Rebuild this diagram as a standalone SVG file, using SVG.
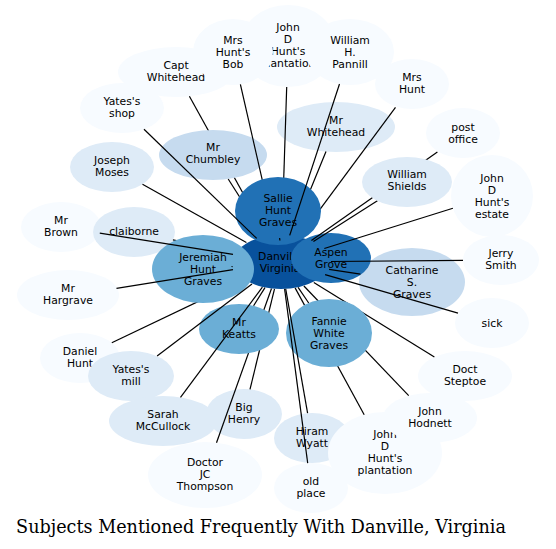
<svg xmlns="http://www.w3.org/2000/svg" width="556" height="549" viewBox="0 0 556 549">
<style>
.c1{fill:#f7fbff}.c2{fill:#deebf7}.c3{fill:#c6dbef}.c4{fill:#6baed6}.c5{fill:#2171b5}.c6{fill:#08519c}
text{font-family:"DejaVu Sans","Liberation Sans",sans-serif;font-size:10.8px;fill:#000;text-anchor:middle}
line{stroke:#000;stroke-width:1.2;fill:none}
.title{font-family:"DejaVu Serif","Liberation Serif",serif;font-size:17.6px;text-anchor:middle}
</style>
<rect width="556" height="549" fill="#fff"/>
<g id="nodes-light">
<g id="n-yatesshop"><ellipse class="c1" cx="122" cy="108" rx="42" ry="25"/><text><tspan x="122" y="105">Yates's</tspan><tspan x="122" y="117">shop</tspan></text></g>
<g id="n-captwhitehead"><ellipse class="c1" cx="176" cy="72" rx="58" ry="25"/><text><tspan x="176" y="69">Capt</tspan><tspan x="176" y="81">Whitehead</tspan></text></g>
<g id="n-jdhp1"><ellipse class="c1" cx="288" cy="46" rx="48" ry="41"/><text><tspan x="288" y="31">John</tspan><tspan x="288" y="43">D</tspan><tspan x="288" y="55">Hunt's</tspan><tspan x="288" y="67">plantation</tspan></text></g>
<g id="n-bob"><ellipse class="c1" cx="233" cy="52" rx="40" ry="33"/><text><tspan x="233" y="44">Mrs</tspan><tspan x="233" y="56">Hunt's</tspan><tspan x="233" y="68">Bob</tspan></text></g>
<g id="n-pannill"><ellipse class="c1" cx="350" cy="52" rx="44" ry="33"/><text><tspan x="350" y="44">William</tspan><tspan x="350" y="56">H.</tspan><tspan x="350" y="68">Pannill</tspan></text></g>
<g id="n-mrshunt"><ellipse class="c1" cx="412" cy="84" rx="37" ry="25"/><text><tspan x="412" y="81">Mrs</tspan><tspan x="412" y="93">Hunt</tspan></text></g>
<g id="n-postoffice"><ellipse class="c1" cx="463" cy="133" rx="37" ry="25"/><text><tspan x="463" y="131">post</tspan><tspan x="463" y="143">office</tspan></text></g>
<g id="n-mrwhitehead"><ellipse class="c2" cx="336" cy="127" rx="59" ry="25"/><text><tspan x="336" y="124">Mr</tspan><tspan x="336" y="136">Whitehead</tspan></text></g>
<g id="n-estate"><ellipse class="c1" cx="492" cy="196" rx="41" ry="41"/><text><tspan x="492" y="182">John</tspan><tspan x="492" y="194">D</tspan><tspan x="492" y="206">Hunt's</tspan><tspan x="492" y="218">estate</tspan></text></g>
<g id="n-jerry"><ellipse class="c1" cx="501" cy="260" rx="38" ry="25"/><text><tspan x="501" y="257">Jerry</tspan><tspan x="501" y="269">Smith</tspan></text></g>
<g id="n-sick"><ellipse class="c1" cx="492" cy="323" rx="37" ry="25"/><text><tspan x="492" y="327">sick</tspan></text></g>
<g id="n-steptoe"><ellipse class="c1" cx="465" cy="376" rx="47" ry="25"/><text><tspan x="465" y="373">Doct</tspan><tspan x="465" y="385">Steptoe</tspan></text></g>
<g id="n-hiram"><ellipse class="c2" cx="312" cy="438" rx="38" ry="25"/><text><tspan x="312" y="435">Hiram</tspan><tspan x="312" y="447">Wyatt</tspan></text></g>
<g id="n-jdhp2"><ellipse class="c1" cx="385" cy="453" rx="57" ry="41"/><text><tspan x="385" y="438">John</tspan><tspan x="385" y="450">D</tspan><tspan x="385" y="462">Hunt's</tspan><tspan x="385" y="474">plantation</tspan></text></g>
<g id="n-hodnett"><ellipse class="c1" cx="430" cy="418" rx="47" ry="25"/><text><tspan x="430" y="415">John</tspan><tspan x="430" y="427">Hodnett</tspan></text></g>
<g id="n-oldplace"><ellipse class="c1" cx="311" cy="488" rx="37" ry="25"/><text><tspan x="311" y="485">old</tspan><tspan x="311" y="497">place</tspan></text></g>
<g id="n-thompson"><ellipse class="c1" cx="205" cy="475" rx="57" ry="33"/><text><tspan x="205" y="466">Doctor</tspan><tspan x="205" y="478">JC</tspan><tspan x="205" y="490">Thompson</tspan></text></g>
<g id="n-danielhunt"><ellipse class="c1" cx="80" cy="358" rx="40" ry="25"/><text><tspan x="80" y="355">Daniel</tspan><tspan x="80" y="367">Hunt</tspan></text></g>
<g id="n-yatesmill"><ellipse class="c2" cx="131" cy="376" rx="43" ry="25"/><text><tspan x="131" y="373">Yates's</tspan><tspan x="131" y="385">mill</tspan></text></g>
<g id="n-sarah"><ellipse class="c2" cx="163" cy="421" rx="54" ry="25"/><text><tspan x="163" y="418">Sarah</tspan><tspan x="163" y="430">McCullock</tspan></text></g>
<g id="n-bighenry"><ellipse class="c2" cx="244" cy="414" rx="38" ry="25"/><text><tspan x="244" y="411">Big</tspan><tspan x="244" y="423">Henry</tspan></text></g>
<g id="n-hargrave"><ellipse class="c1" cx="68" cy="295" rx="51" ry="25"/><text><tspan x="68" y="292">Mr</tspan><tspan x="68" y="304">Hargrave</tspan></text></g>
<g id="n-brown"><ellipse class="c1" cx="61" cy="227" rx="40" ry="25"/><text><tspan x="61" y="224">Mr</tspan><tspan x="61" y="236">Brown</tspan></text></g>
<g id="n-claiborne"><ellipse class="c2" cx="134" cy="232" rx="41" ry="25"/><text><tspan x="134" y="235">claiborne</tspan></text></g>
<g id="n-joseph"><ellipse class="c2" cx="112" cy="167" rx="42" ry="25"/><text><tspan x="112" y="164">Joseph</tspan><tspan x="112" y="176">Moses</tspan></text></g>
</g>
<g id="connectors-under">
<line x1="189.4" y1="96.3" x2="266.7" y2="236.1"/>
<line x1="172.9" y1="239.9" x2="234.2" y2="252.5"/>
<line x1="111.8" y1="342.8" x2="243.6" y2="279.9"/>
<line x1="250" y1="389.3" x2="274.5" y2="288.8"/>
<line x1="216.5" y1="442.7" x2="271.5" y2="288.5"/>
<line x1="434.4" y1="357" x2="313.8" y2="282.4"/>
<line x1="364.2" y1="414.8" x2="295.1" y2="287.9"/>
<line x1="408.7" y1="395.7" x2="303.9" y2="286"/>
</g>
<g id="nodes-mid">
<g id="n-danville"><ellipse class="c6" cx="281" cy="262" rx="48" ry="27"/><text><tspan x="280" y="260">Danville</tspan><tspan x="280" y="272">Virginia</tspan></text></g>
<g id="n-chumbley"><ellipse class="c3" cx="213" cy="155" rx="54" ry="25"/><text><tspan x="213" y="151">Mr</tspan><tspan x="213" y="163">Chumbley</tspan></text></g>
<g id="n-catharine"><ellipse class="c3" cx="412" cy="282" rx="53" ry="34"/><text><tspan x="412" y="274">Catharine</tspan><tspan x="412" y="286">S.</tspan><tspan x="412" y="298">Graves</tspan></text></g>
<g id="n-jeremiah"><ellipse class="c4" cx="203" cy="269" rx="51" ry="34"/><text><tspan x="203" y="261">Jeremiah</tspan><tspan x="203" y="273">Hunt</tspan><tspan x="203" y="285">Graves</tspan></text></g>
<g id="n-keatts"><ellipse class="c4" cx="239" cy="329" rx="40" ry="25"/><text><tspan x="239" y="326">Mr</tspan><tspan x="239" y="338">Keatts</tspan></text></g>
<g id="n-fannie"><ellipse class="c4" cx="329" cy="333" rx="43" ry="34"/><text><tspan x="329" y="325">Fannie</tspan><tspan x="329" y="337">White</tspan><tspan x="329" y="349">Graves</tspan></text></g>
</g>
<g id="connectors-mid">
<line x1="240.4" y1="84.4" x2="274.9" y2="235.2"/>
<line x1="286.7" y1="87" x2="281.9" y2="235"/>
<line x1="395.5" y1="107.4" x2="299.6" y2="236.9"/>
<line x1="326" y1="151.6" x2="291.7" y2="235.6"/>
<line x1="228.2" y1="179" x2="264.8" y2="236.5"/>
</g>
<g id="nodes-dark">
<g id="n-sallie"><ellipse class="c5" cx="278" cy="211" rx="43" ry="34"/><text><tspan x="278" y="202">Sallie</tspan><tspan x="278" y="214">Hunt</tspan><tspan x="278" y="226">Graves</tspan></text></g>
<g id="n-aspen"><ellipse class="c5" cx="331" cy="258" rx="40" ry="25"/><text><tspan x="331" y="256">Aspen</tspan><tspan x="331" y="268">Grove</tspan></text></g>
</g>
<g id="connectors-over">
<line x1="339.5" y1="84" x2="289.7" y2="235.4"/>
<line x1="144" y1="129.3" x2="256.7" y2="238.4"/>
<line x1="142.5" y1="184.2" x2="246.4" y2="242.5"/>
<line x1="99.8" y1="233.2" x2="233" y2="254.4"/>
<line x1="116.5" y1="288.3" x2="233" y2="269.7"/>
<line x1="157.1" y1="356.1" x2="252" y2="284"/>
<line x1="180.5" y1="397.4" x2="262.4" y2="287.1"/>
<line x1="307.6" y1="413.2" x2="285.7" y2="288.9"/>
<line x1="307.7" y1="463.1" x2="284.6" y2="288.9"/>
<line x1="253.6" y1="305.7" x2="265" y2="287.6"/>
<line x1="308.7" y1="303" x2="298.1" y2="287.4"/>
<line x1="360.4" y1="274.1" x2="329.1" y2="269.3"/>
<line x1="458" y1="313.2" x2="325.1" y2="274.7"/>
<line x1="463" y1="260.3" x2="331" y2="261.5"/>
<line x1="452.9" y1="208.2" x2="324.3" y2="248.5"/>
<line x1="377.4" y1="200.8" x2="313.4" y2="241.4"/>
<line x1="437.4" y1="152" x2="311.4" y2="240.6"/>
<line x1="279.6" y1="238" x2="279.9" y2="240.5"/>
<line x1="231.5" y1="266.5" x2="232.6" y2="266.6"/>
</g>
<g id="n-shields"><ellipse class="c2" cx="407" cy="182" rx="45" ry="25"/><text><tspan x="407" y="178">William</tspan><tspan x="407" y="190">Shields</tspan></text></g>
<text class="title" x="261" y="533">Subjects Mentioned Frequently With Danville, Virginia</text>
</svg>
